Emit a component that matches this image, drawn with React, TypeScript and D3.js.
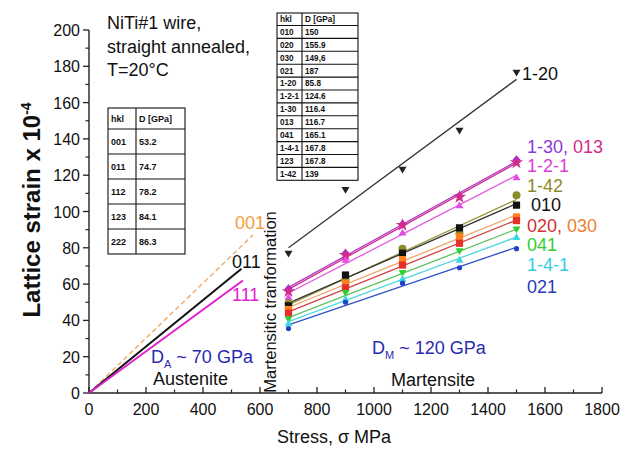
import React from "react";
import * as d3 from "d3";

const stressM = [700, 900, 1100, 1300, 1500];

const series = [
  { name: "1-20", color: "#222222", line: "#333333", shape: "triDown", values: [76.6, 111.8, 122.9, 144.4, 176.3] },
  { name: "1-30", color: "#9b30d9", line: "#b03cc8", shape: "diamond", values: [57.5, 77, 93, 108.5, 128.5] },
  { name: "013", color: "#d12c8c", line: "#d12c8c", shape: "star", values: [56, 76, 92.5, 108, 127] },
  { name: "1-2-1", color: "#e24de2", line: "#e25ae2", shape: "triUp", values: [53, 73.5, 88.5, 103.5, 119] },
  { name: "1-42", color: "#8c8c28", line: "#9a9a40", shape: "circle", values: [49.5, 62, 79.5, 88, 109] },
  { name: "010", color: "#111111", line: "#333333", shape: "square", values: [48, 65, 77, 91, 103.5] },
  { name: "030", color: "#ff8020", line: "#f0a060", shape: "square", values: [46, 60.5, 73.5, 86, 97] },
  { name: "020", color: "#e8302a", line: "#d04040", shape: "square", values: [44, 58, 70.5, 82.5, 95] },
  { name: "041", color: "#30d030", line: "#60c060", shape: "triDown", values: [40.5, 55, 66, 78, 90] },
  { name: "1-4-1", color: "#3cd8e0", line: "#50d8e0", shape: "triUp", values: [38.5, 52, 63, 73.5, 86] },
  { name: "021", color: "#2240c8", line: "#3050c8", shape: "smallCircle", values: [35.5, 50, 60.5, 69, 79.5] },
];

const austenite = [
  { name: "001", color: "#f0b070", endStress: 575, endStrain: 87, dashed: true },
  { name: "011", color: "#111111", endStress: 535, endStrain: 68.5, dashed: false },
  { name: "111", color: "#e020d0", endStress: 540, endStrain: 62, dashed: false },
];

const leftTableHeader = ["hkl", "D [GPa]"];
const leftTableRows = [
  ["001", "53.2"],
  ["011", "74.7"],
  ["112", "78.2"],
  ["123", "84.1"],
  ["222", "86.3"],
];

const rightTableHeader = ["hkl", "D [GPa]"];
const rightTableRows = [
  ["010", "150"],
  ["020", "155.9"],
  ["030", "149,6"],
  ["021", "187"],
  ["1-20", "85.8"],
  ["1-2-1", "124.6"],
  ["1-30", "116.4"],
  ["013", "116.7"],
  ["041", "165.1"],
  ["1-4-1", "167.8"],
  ["123", "167.8"],
  ["1-42", "139"],
];

const xTicks = d3.range(0, 1801, 200);
const yTicks = d3.range(0, 201, 20);

const FONT = "Liberation Sans, Arial, sans-serif";

function fit(xs: number[], ys: number[]) {
  const mx = d3.mean(xs) as number;
  const my = d3.mean(ys) as number;
  let num = 0, den = 0;
  xs.forEach((x, i) => { num += (x - mx) * (ys[i] - my); den += (x - mx) * (x - mx); });
  const b = num / den;
  return (x: number) => my + b * (x - mx);
}

function marker(shape: string, cx: number, cy: number, color: string, key: string) {
  const s = 4;
  switch (shape) {
    case "triDown":
      return <path key={key} d={`M${cx - s},${cy - s * 0.8}L${cx + s},${cy - s * 0.8}L${cx},${cy + s * 0.9}Z`} fill={color} />;
    case "triUp":
      return <path key={key} d={`M${cx - s},${cy + s * 0.8}L${cx + s},${cy + s * 0.8}L${cx},${cy - s * 0.9}Z`} fill={color} />;
    case "diamond":
      return <path key={key} d={`M${cx},${cy - s * 1.1}L${cx + s},${cy}L${cx},${cy + s * 1.1}L${cx - s},${cy}Z`} fill={color} />;
    case "star": {
      const p = d3.symbol(d3.symbolStar, 55)();
      return <path key={key} d={p as string} transform={`translate(${cx},${cy})`} fill={color} />;
    }
    case "circle":
      return <circle key={key} cx={cx} cy={cy} r={4} fill={color} />;
    case "smallCircle":
      return <circle key={key} cx={cx} cy={cy} r={2.6} fill={color} />;
    case "square":
    default:
      return <rect key={key} x={cx - 3.6} y={cy - 3.6} width={7.2} height={7.2} fill={color} />;
  }
}

function Table({ x, y, w, div, headH, rowH, header, rows, fs }: any) {
  const h = headH + rowH * rows.length;
  const lines: any[] = [];
  lines.push(<rect key="b" x={x} y={y} width={w} height={h} fill="white" stroke="#111" strokeWidth={1.1} />);
  lines.push(<line key="d" x1={x + div} x2={x + div} y1={y} y2={y + h} stroke="#111" strokeWidth={1.1} />);
  for (let i = 0; i < rows.length; i++) {
    const yy = y + headH + i * rowH;
    lines.push(<line key={"r" + i} x1={x} x2={x + w} y1={yy} y2={yy} stroke="#111" strokeWidth={1.1} />);
  }
  const texts: any[] = [];
  texts.push(<text key="h0" x={x + 3} y={y + headH / 2 + fs * 0.35} fontSize={fs} fontWeight="bold">{header[0]}</text>);
  texts.push(<text key="h1" x={x + div + 3} y={y + headH / 2 + fs * 0.35} fontSize={fs} fontWeight="bold">{header[1]}</text>);
  rows.forEach((r: string[], i: number) => {
    const cy = y + headH + i * rowH + rowH / 2 + fs * 0.35;
    texts.push(<text key={"a" + i} x={x + 3} y={cy} fontSize={fs} fontWeight="bold">{r[0]}</text>);
    texts.push(<text key={"b" + i} x={x + div + 3} y={cy} fontSize={fs} fontWeight="bold">{r[1]}</text>);
  });
  return <g fontFamily={FONT} fill="#111">{lines}{texts}</g>;
}

export default function App() {
  const W = 623, H = 452;
  const x = d3.scaleLinear().domain([0, 1800]).range([89, 602]);
  const y = d3.scaleLinear().domain([0, 200]).range([393, 30]);
  const minorX = d3.range(100, 1800, 200);
  const minorY = d3.range(10, 200, 20);

  return (
    <svg width={W} height={H} style={{ position: "absolute", left: 0, top: 0, background: "white" }} fontFamily={FONT}>
      <rect width={W} height={H} fill="white" />
      {/* axes */}
      <line x1={x(0)} x2={x(1800)} y1={y(0)} y2={y(0)} stroke="#222" strokeWidth={1.4} />
      <line x1={x(0)} x2={x(0)} y1={y(0)} y2={y(200)} stroke="#222" strokeWidth={1.4} />
      {xTicks.map((t) => (
        <g key={"xt" + t}>
          <line x1={x(t)} x2={x(t)} y1={y(0)} y2={y(0) - 6} stroke="#222" strokeWidth={1.3} />
          <text x={x(t)} y={y(0) + 22} fontSize={16} textAnchor="middle" fill="#111">{t}</text>
        </g>
      ))}
      {minorX.map((t) => (
        <line key={"xm" + t} x1={x(t)} x2={x(t)} y1={y(0)} y2={y(0) - 3.5} stroke="#222" strokeWidth={1.2} />
      ))}
      {yTicks.map((t) => (
        <g key={"yt" + t}>
          <line x1={x(0)} x2={x(0) - 6} y1={y(t)} y2={y(t)} stroke="#222" strokeWidth={1.3} />
          <text x={x(0) - 9} y={y(t) + 6} fontSize={16} textAnchor="end" fill="#111">{t}</text>
        </g>
      ))}
      {minorY.map((t) => (
        <line key={"ym" + t} x1={x(0)} x2={x(0) - 3.5} y1={y(t)} y2={y(t)} stroke="#222" strokeWidth={1.2} />
      ))}
      {/* axis titles */}
      <text x={334} y={443} fontSize={18} textAnchor="middle" fill="#111">Stress, σ MPa</text>
      <text transform={`translate(40,${210}) rotate(-90)`} fontSize={24} fontWeight="bold" textAnchor="middle" fill="#111">
        Lattice strain x 10<tspan dy={-9} fontSize={14}>-4</tspan>
      </text>

      {/* austenite lines */}
      {austenite.map((a) => (
        <line key={a.name} x1={x(0)} y1={y(0)} x2={x(a.endStress)} y2={y(a.endStrain)} stroke={a.color}
          strokeWidth={a.dashed ? 1.5 : 2} strokeDasharray={a.dashed ? "5,3" : undefined} />
      ))}
      <text x={235} y={229} fontSize={18} fill="#f0a040">001</text>
      <text x={232} y={268} fontSize={18} fill="#111">011</text>
      <text x={232} y={301} fontSize={18} fill="#e020d0">111</text>

      {/* martensite fit lines and points */}
      {series.map((s) => {
        const f = fit(stressM, s.values);
        return (
          <g key={s.name}>
            <line x1={x(700)} y1={y(f(700))} x2={x(1500)} y2={y(f(1500))} stroke={s.line} strokeWidth={1.3} />
          </g>
        );
      })}
      {series.map((s) => (
        <g key={"m" + s.name}>
          {s.values.map((v, i) => marker(s.shape, x(stressM[i]), y(v), s.color, s.name + i))}
        </g>
      ))}

      {/* series labels */}
      <text x={522} y={80} fontSize={18} fill="#111">1-20</text>
      <text x={527} y={153} fontSize={18}><tspan fill="#8a3ad8">1-30</tspan><tspan fill="#8a3ad8">, </tspan><tspan fill="#d12c8c">013</tspan></text>
      <text x={527} y={172} fontSize={18} fill="#d83cd8">1-2-1</text>
      <text x={527} y={192} fontSize={18} fill="#8c8c28">1-42</text>
      <text x={531} y={211} fontSize={18} fill="#111">010</text>
      <text x={527} y={232} fontSize={18}><tspan fill="#d03030">020</tspan><tspan fill="#d03030">, </tspan><tspan fill="#f08030">030</tspan></text>
      <text x={527} y={251} fontSize={18} fill="#30d030">041</text>
      <text x={527} y={271} fontSize={18} fill="#30d0e0">1-4-1</text>
      <text x={527} y={293} fontSize={18} fill="#2a3ab8">021</text>

      {/* annotation texts */}
      <text x={107} y={29} fontSize={18} fill="#111">NiTi#1 wire,</text>
      <text x={107} y={53} fontSize={18} fill="#111">straight annealed,</text>
      <text x={107} y={76} fontSize={18} fill="#111">T=20°C</text>

      <text x={151} y={363} fontSize={18} fill="#2a2ab0">D<tspan dy={5} fontSize={11}>A</tspan><tspan dy={-5}> ~ 70 GPa</tspan></text>
      <text x={153} y={385} fontSize={18} fill="#111">Austenite</text>
      <text x={372} y={354} fontSize={18} fill="#2a2ab0">D<tspan dy={5} fontSize={11}>M</tspan><tspan dy={-5}> ~ 120 GPa</tspan></text>
      <text x={433} y={386} fontSize={18} textAnchor="middle" fill="#111">Martensite</text>
      <text transform={`translate(276,302) rotate(-90)`} fontSize={16.5} textAnchor="middle" fill="#111">Martensitic tranformation</text>

      {/* tables */}
      <Table x={108} y={108} w={77} div={28} headH={21} rowH={25} header={leftTableHeader} rows={leftTableRows} fs={9} />
      <Table x={277} y={13} w={81} div={25} headH={12.5} rowH={12.9} header={rightTableHeader} rows={rightTableRows} fs={8.2} />
    </svg>
  );
}
